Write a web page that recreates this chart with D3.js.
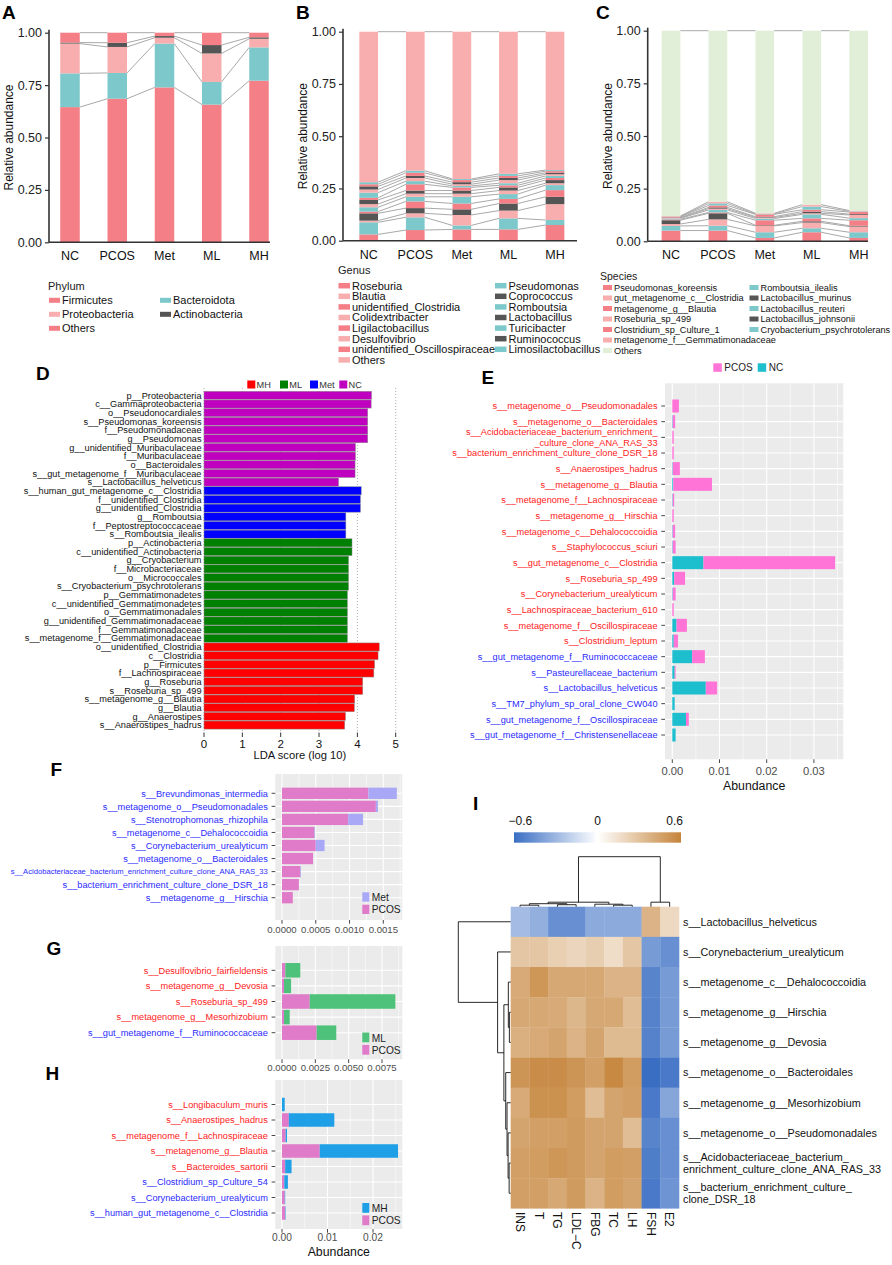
<!DOCTYPE html>
<html><head><meta charset="utf-8">
<script src="https://cdn.jsdelivr.net/npm/d3@7/dist/d3.min.js"></script>
<style>
body{margin:0;background:#fff}
svg{display:block;font-family:"Liberation Sans",Arial,Helvetica,sans-serif}
</style>
</head><body>
<svg id="fig" width="892" height="1265"></svg>
<script>
// ======================= DATA =======================
const groups = ["NC","PCOS","Met","ML","MH"];
const yTicks = [0, 0.25, 0.5, 0.75, 1];

// Panel A (stack order bottom -> top), values per group NC,PCOS,Met,ML,MH
const phylumTaxa = ["Firmicutes","Bacteroidota","Proteobacteria","Actinobacteria","Others"];
const phylumValues = [
  [0.645,0.685,0.739,0.657,0.771],
  [0.161,0.123,0.209,0.108,0.159],
  [0.142,0.124,0.028,0.136,0.041],
  [0.005,0.020,0.008,0.040,0.007],
  [0.047,0.048,0.016,0.059,0.022]
];
const phylumLegendCols = [["Firmicutes","Proteobacteria","Others"],["Bacteroidota","Actinobacteria"]];

// Panel B
const genusTaxa = ["Roseburia","Pseudomonas","Blautia","Coprococcus","unidentified_Clostridia","Romboutsia",
  "Colidextribacter","Lactobacillus","Ligilactobacillus","Turicibacter","Desulfovibrio","Ruminococcus",
  "unidentified_Oscillospiraceae","Limosilactobacillus","Others"];
const genusValues = [
  [0.030,0.051,0.054,0.054,0.075],
  [0.058,0.061,0.019,0.053,0.024],
  [0.008,0.019,0.050,0.037,0.076],
  [0.035,0.025,0.027,0.034,0.035],
  [0.008,0.032,0.028,0.022,0.032],
  [0.021,0.022,0.032,0.023,0.024],
  [0.015,0.015,0.015,0.017,0.009],
  [0.020,0.015,0.015,0.015,0.015],
  [0.010,0.030,0.015,0.010,0.010],
  [0.025,0.015,0.007,0.010,0.010],
  [0.015,0.015,0.008,0.015,0.008],
  [0.015,0.010,0.010,0.010,0.007],
  [0.010,0.015,0.010,0.010,0.008],
  [0.010,0.010,0.005,0.010,0.005],
  [0.720,0.665,0.705,0.680,0.662]
];
const genusLegendCols = [
  ["Roseburia","Blautia","unidentified_Clostridia","Colidextribacter","Ligilactobacillus","Desulfovibrio","unidentified_Oscillospiraceae","Others"],
  ["Pseudomonas","Coprococcus","Romboutsia","Lactobacillus","Turicibacter","Ruminococcus","Limosilactobacillus"]
];

// Panel C
const speciesTaxa = ["Pseudomonas_koreensis","Romboutsia_ilealis","gut_metagenome_c__Clostridia","Lactobacillus_murinus",
  "metagenome_g__Blautia","Lactobacillus_reuteri","Roseburia_sp_499","Lactobacillus_johnsonii",
  "Clostridium_sp_Culture_1","Cryobacterium_psychrotolerans","metagenome_f__Gemmatimonadaceae","Others"];
const speciesValues = [
  [0.051,0.051,0.016,0.043,0.016],
  [0.022,0.023,0.027,0.019,0.027],
  [0.009,0.030,0.030,0.027,0.027],
  [0.018,0.029,0.003,0.006,0.004],
  [0.004,0.004,0.024,0.014,0.026],
  [0.005,0.012,0.008,0.019,0.010],
  [0.002,0.006,0.005,0.005,0.015],
  [0.002,0.006,0.004,0.008,0.004],
  [0.004,0.009,0.011,0.009,0.010],
  [0.001,0.010,0.002,0.015,0.003],
  [0.002,0.008,0.003,0.009,0.004],
  [0.880,0.812,0.867,0.826,0.854]
];
const speciesLegendCols = [
  ["Pseudomonas_koreensis","gut_metagenome_c__Clostridia","metagenome_g__Blautia","Roseburia_sp_499","Clostridium_sp_Culture_1","metagenome_f__Gemmatimonadaceae","Others"],
  ["Romboutsia_ilealis","Lactobacillus_murinus","Lactobacillus_reuteri","Lactobacillus_johnsonii","Cryobacterium_psychrotolerans"]
];

// Panel D (LEfSe)
const ldaGroups = ["MH","ML","Met","NC"];
const ldaNames = ["p__Proteobacteria","c__Gammaproteobacteria","o__Pseudonocardiales","s__Pseudomonas_koreensis",
  "f__Pseudomonadaceae","g__Pseudomonas","g__unidentified_Muribaculaceae","f__Muribaculaceae","o__Bacteroidales",
  "s__gut_metagenome_f__Muribaculaceae","s__Lactobacillus_helveticus",
  "s__human_gut_metagenome_c__Clostridia","f__unidentified_Clostridia","g__unidentified_Clostridia","g__Romboutsia",
  "f__Peptostreptococcaceae","s__Romboutsia_ilealis",
  "p__Actinobacteria","c__unidentified_Actinobacteria","g__Cryobacterium","f__Microbacteriaceae","o__Micrococcales",
  "s__Cryobacterium_psychrotolerans","p__Gemmatimonadetes","c__unidentified_Gemmatimonadetes","o__Gemmatimonadales",
  "g__unidentified_Gemmatimonadaceae","f__Gemmatimonadaceae","s__metagenome_f__Gemmatimonadaceae",
  "o__unidentified_Clostridia","c__Clostridia","p__Firmicutes","f__Lachnospiraceae","g__Roseburia","s__Roseburia_sp_499",
  "s__metagenome_g__Blautia","g__Blautia","g__Anaerostipes","s__Anaerostipes_hadrus"];
const ldaScores = [4.37,4.36,4.27,4.27,4.27,4.27,3.95,3.95,3.94,3.94,3.51,
  4.10,4.08,4.08,3.70,3.70,3.70,
  3.86,3.86,3.77,3.77,3.77,3.77,3.74,3.74,3.74,3.74,3.74,3.74,
  4.57,4.54,4.45,4.43,4.14,4.14,3.93,3.92,3.69,3.67];
const ldaClass = [...Array(11).fill("NC"),...Array(6).fill("Met"),...Array(12).fill("ML"),...Array(10).fill("MH")];
const ldaTicks = [0,1,2,3,4,5];

// Panel E (NC vs PCOS)
const eNames = ["s__metagenome_o__Pseudomonadales","s__metagenome_o__Bacteroidales",
  "s__Acidobacteriaceae_bacterium_enrichment_\n_culture_clone_ANA_RAS_33","s__bacterium_enrichment_culture_clone_DSR_18",
  "s__Anaerostipes_hadrus","s__metagenome_g__Blautia","s__metagenome_f__Lachnospiraceae","s__metagenome_g__Hirschia",
  "s__metagenome_c__Dehalococcoidia","s__Staphylococcus_sciuri","s__gut_metagenome_c__Clostridia","s__Roseburia_sp_499",
  "s__Corynebacterium_urealyticum","s__Lachnospiraceae_bacterium_610","s__metagenome_f__Oscillospiraceae",
  "s__Clostridium_leptum","s__gut_metagenome_f__Ruminococcaceae","s__Pasteurellaceae_bacterium",
  "s__Lactobacillus_helveticus","s__TM7_phylum_sp_oral_clone_CW040","s__gut_metagenome_f__Oscillospiraceae",
  "s__gut_metagenome_f__Christensenellaceae"];
const eNC   = [0.0000,0.0001,0.0000,0.0000,0.0001,0.0002,0.0001,0.0000,0.0001,0.0001,0.0066,0.0004,0.0001,0.0000,0.0009,0.0003,0.0042,0.0005,0.0071,0.0005,0.0029,0.0007];
const ePCOS = [0.0014,0.0005,0.0003,0.0003,0.0015,0.0082,0.0003,0.0003,0.0005,0.0006,0.0279,0.0023,0.0006,0.0003,0.0022,0.0009,0.0027,0.0002,0.0024,0.0000,0.0006,0.0000];
const eDir = [...Array(16).fill("up"),...Array(6).fill("down")];
const eTicks = [0,0.01,0.02,0.03];

// Panel F (PCOS vs Met)
const fNames = ["s__Brevundimonas_intermedia","s__metagenome_o__Pseudomonadales","s__Stenotrophomonas_rhizophila",
  "s__metagenome_c__Dehalococcoidia","s__Corynebacterium_urealyticum","s__metagenome_o__Bacteroidales",
  "s__Acidobacteriaceae_bacterium_enrichment_culture_clone_ANA_RAS_33","s__bacterium_enrichment_culture_clone_DSR_18",
  "s__metagenome_g__Hirschia"];
const fPCOS = [0.00128,0.00139,0.00098,0.00048,0.00050,0.00046,0.00027,0.00025,0.00016];
const fMet  = [0.00042,0.00003,0.00022,0.00001,0.00013,0.00000,0.00001,0.00000,0.00000];
const fDir = Array(9).fill("down");
const fTicks = [0,0.0005,0.0010,0.0015];

// Panel G (PCOS vs ML)
const gNames = ["s__Desulfovibrio_fairfieldensis","s__metagenome_g__Devosia","s__Roseburia_sp_499",
  "s__metagenome_g__Mesorhizobium","s__gut_metagenome_f__Ruminococcaceae"];
const gPCOS = [0.00025,0.00015,0.00208,0.00015,0.00260];
const gML   = [0.00112,0.00053,0.00642,0.00043,0.00147];
const gDir = ["up","up","up","up","down"];
const gTicks = [0,0.0025,0.0050,0.0075];

// Panel H (PCOS vs MH)
const hNames = ["s__Longibaculum_muris","s__Anaerostipes_hadrus","s__metagenome_f__Lachnospiraceae","s__metagenome_g__Blautia",
  "s__Bacteroides_sartorii","s__Clostridium_sp_Culture_54","s__Corynebacterium_urealyticum","s__human_gut_metagenome_c__Clostridia"];
const hPCOS = [0.0000,0.0015,0.0008,0.0083,0.0007,0.0005,0.0006,0.0007];
const hMH   = [0.0006,0.0100,0.0003,0.0172,0.0014,0.0008,0.0001,0.0001];
const hDir = ["up","up","up","up","up","down","down","down"];
const hTicks = [0,0.01,0.02];

// Panel I (correlation heatmap)
const hmCols = ["INS","T","TG","LDL\u2212C","FBG","TC","LH","FSH","E2"];
const hmRows = ["s__Lactobacillus_helveticus","s__Corynebacterium_urealyticum","s__metagenome_c__Dehalococcoidia",
  "s__metagenome_g__Hirschia","s__metagenome_g__Devosia","s__metagenome_o__Bacteroidales","s__metagenome_g__Mesorhizobium",
  "s__metagenome_o__Pseudomonadales","s__Acidobacteriaceae_bacterium_\nenrichment_culture_clone_ANA_RAS_33",
  "s__bacterium_enrichment_culture_\nclone_DSR_18"];
const hmValues = [
  [-0.30,-0.36,-0.50,-0.50,-0.38,-0.38,-0.38, 0.40, 0.20],
  [ 0.30, 0.30, 0.25, 0.22, 0.26, 0.18, 0.30,-0.45,-0.50],
  [ 0.45, 0.55, 0.46, 0.46, 0.46, 0.40, 0.40,-0.55,-0.45],
  [ 0.46, 0.46, 0.45, 0.38, 0.46, 0.46, 0.35,-0.56,-0.45],
  [ 0.42, 0.45, 0.48, 0.40, 0.48, 0.36, 0.36,-0.56,-0.45],
  [ 0.56, 0.60, 0.60, 0.56, 0.50, 0.62, 0.52,-0.65,-0.60],
  [ 0.45, 0.58, 0.58, 0.52, 0.35, 0.48, 0.50,-0.60,-0.40],
  [ 0.48, 0.50, 0.50, 0.53, 0.48, 0.48, 0.35,-0.55,-0.50],
  [ 0.50, 0.52, 0.55, 0.53, 0.48, 0.52, 0.50,-0.58,-0.50],
  [ 0.50, 0.50, 0.46, 0.53, 0.40, 0.52, 0.48,-0.60,-0.48]
];
const colTree = {h:1.0, c:[
  {h:0.09, c:[ {h:0.06, c:[ {h:0.03, c:["INS","T"]}, {h:0.04, c:["TG","LDL\u2212C"]} ]},
               {h:0.05, c:["FBG", {h:0.03, c:["TC","LH"]}]} ]},
  {h:0.09, c:["FSH","E2"]} ]};
const rowTree = {h:1.0, c:[ hmRows[0],
  {h:0.25, c:[ hmRows[1],
    {h:0.13, c:[
      {h:0.045, c:[hmRows[2], {h:0.025, c:[hmRows[3], hmRows[4]]}]},
      {h:0.095, c:[hmRows[5], {h:0.07, c:[hmRows[6], {h:0.05, c:[hmRows[7], {h:0.03, c:[hmRows[8], hmRows[9]]}]}]}]}
    ]}
  ]}
]};
const hmTicks = [-0.6, 0, 0.6];

// ======================= STYLE / DRAW =======================
const svg = d3.select("#fig");
const SALMON = "#F47F87", LPINK = "#F8AEAE", TEAL = "#7DC8CA", DARK = "#555555", LGREEN = "#E1EFD9";
const cycle4 = [SALMON, TEAL, LPINK, DARK];
const colA = {Firmicutes:SALMON, Bacteroidota:TEAL, Proteobacteria:LPINK, Actinobacteria:DARK, Others:SALMON};
const colB = {}; genusTaxa.forEach((t,i)=>colB[t]=cycle4[i%4]); colB.Others = LPINK;
const colC = {}; speciesTaxa.forEach((t,i)=>colC[t]=cycle4[i%4]); colC.Others = LGREEN;
const dirColor = {up:"#FF1A1A", down:"#2A2AFF"};

function txt(g,x,y,s,o={}){
  const t = g.append("text").attr("x",x).attr("y",y).text(s)
    .attr("font-size",o.size||11).attr("fill",o.fill||"#000").attr("text-anchor",o.anchor||"start");
  if(o.weight) t.attr("font-weight",o.weight);
  return t;
}
function panelLetter(x,y,s){ txt(svg,x,y,s,{size:19,weight:"bold"}); }

function stackPanel(o){
  const g = svg.append("g");
  const x = d3.scalePoint().domain(groups).range([o.c0,o.c1]);
  const y = d3.scaleLinear().domain([0,1]).range([o.yb,o.yt]);
  const table = groups.map((gr,j)=>{const r={group:gr}; o.taxa.forEach((t,i)=>{r[t]=o.values[i][j];}); return r;});
  const series = d3.stack().keys(o.taxa)(table);
  const hw = o.bw/2;
  series.forEach(s=>{
    g.append("g").selectAll("line").data(d3.pairs(Array.from(s))).join("line")
      .attr("x1",p=>x(p[0].data.group)+hw).attr("x2",p=>x(p[1].data.group)-hw)
      .attr("y1",p=>y(p[0][1])).attr("y2",p=>y(p[1][1]))
      .attr("stroke","#A9A9A9").attr("stroke-width",1);
  });
  series.forEach(s=>{
    g.append("g").selectAll("rect").data(s).join("rect")
      .attr("x",d=>x(d.data.group)-hw).attr("width",o.bw)
      .attr("y",d=>y(d[1])).attr("height",d=>Math.max(0,y(d[0])-y(d[1])))
      .attr("fill",o.color[s.key]);
  });
  const ay = g.append("g").attr("transform",`translate(${o.ax},0)`)
    .call(d3.axisLeft(y).tickValues(yTicks).tickFormat(d3.format(".2f")).tickSize(4).tickSizeOuter(0).tickPadding(3));
  ay.select(".domain").remove();
  ay.selectAll(".tick line").attr("stroke","#333").attr("stroke-width",1.2);
  ay.selectAll(".tick text").attr("font-size",12.5).attr("fill","#222").attr("font-family",null);
  g.append("line").attr("x1",o.ax).attr("x2",o.ax).attr("y1",o.yt-3).attr("y2",o.yb)
    .attr("stroke","#333").attr("stroke-width",1.6);
  g.append("line").attr("x1",o.ax).attr("x2",o.axEnd).attr("y1",o.yb).attr("y2",o.yb)
    .attr("stroke","#333").attr("stroke-width",1.6);
  groups.forEach(gr=>txt(g,x(gr),o.yb+18,gr,{size:12.5,anchor:"middle",fill:"#111"}));
  g.append("text").attr("transform",`translate(${o.lx},${(o.yt+o.yb)/2}) rotate(-90)`)
    .attr("text-anchor","middle").attr("font-size",12).attr("fill","#111").text("Relative abundance");
  const L = o.legend;
  txt(g,L.tx,L.ty,L.title,{size:L.titleSize,fill:"#222"});
  L.cols.forEach((col,ci)=>{
    col.forEach((name,i)=>{
      const cy = L.y0 + i*L.dy;
      g.append("rect").attr("x",L.xs[ci]).attr("y",cy-L.sh/2).attr("width",L.sw).attr("height",L.sh).attr("fill",o.color[name]);
      txt(g,L.xs[ci]+L.sw+2,cy+L.size*0.36,name,{size:L.size,fill:"#111"});
    });
  });
}

panelLetter(2,18.5,"A"); panelLetter(296,18.5,"B"); panelLetter(596,18.5,"C");

stackPanel({taxa:phylumTaxa, values:phylumValues, color:colA, c0:70, c1:259, bw:19.5, yt:32.7, yb:242.3, ax:49, axEnd:270, lx:13,
  legend:{title:"Phylum", tx:48, ty:289.5, titleSize:11, cols:phylumLegendCols, xs:[49,160], y0:300.3, dy:14, sw:11, sh:5, size:11}});
stackPanel({taxa:genusTaxa, values:genusValues, color:colB, c0:368.7, c1:555, bw:18.7, yt:31.7, yb:240.7, ax:343, axEnd:577, lx:307,
  legend:{title:"Genus", tx:338, ty:274, titleSize:11, cols:genusLegendCols, xs:[338.5,495], y0:285.7, dy:10.6, sw:11.5, sh:5.5, size:11}});
stackPanel({taxa:speciesTaxa, values:speciesValues, color:colC, c0:671, c1:858.7, bw:18.7, yt:30.7, yb:241.3, ax:647.7, axEnd:868, lx:612,
  legend:{title:"Species", tx:600, ty:280, titleSize:10.5, cols:speciesLegendCols, xs:[603,749.5], y0:287.5, dy:10.5, sw:9, sh:5, size:9.2}});

// ---------- Panel D ----------
(function(){
  panelLetter(36,380,"D");
  const g = svg.append("g");
  const ldaColor = {MH:"#FF0000", ML:"#008000", Met:"#0000FF", NC:"#BF00BF"};
  const x = d3.scaleLinear().domain([0,5]).range([204,395.7]);
  const y = d3.scaleBand().domain(ldaNames).range([391,729.4]);
  ldaTicks.forEach(t=>g.append("line").attr("x1",x(t)).attr("x2",x(t)).attr("y1",388).attr("y2",731)
    .attr("stroke","#9a9a9a").attr("stroke-width",0.8).attr("stroke-dasharray","1,2"));
  g.selectAll("rect.b").data(ldaNames).join("rect").attr("class","b")
    .attr("x",x(0)).attr("y",(d)=>y(d)+0.3).attr("width",(d,i)=>x(ldaScores[i])-x(0)).attr("height",y.bandwidth()-0.6)
    .attr("fill",(d,i)=>ldaColor[ldaClass[i]]).attr("stroke","#8a8a8a").attr("stroke-width",0.5);
  ldaNames.forEach(n=>txt(g,201.5,y(n)+y.bandwidth()/2+3.2,n,{size:9.2,anchor:"end",fill:"#111"}));
  ldaTicks.forEach(t=>{
    g.append("line").attr("x1",x(t)).attr("x2",x(t)).attr("y1",732.5).attr("y2",737).attr("stroke","#333").attr("stroke-width",1);
    txt(g,x(t),747.5,String(t),{size:11.5,anchor:"middle",fill:"#111"});
  });
  txt(g,(x(0)+x(5))/2,759,"LDA score (log 10)",{size:11.2,anchor:"middle",fill:"#111"});
  const lx = {MH:247.3, ML:280, Met:310, NC:339.3};
  ldaGroups.forEach(k=>{
    g.append("rect").attr("x",lx[k]).attr("y",380.5).attr("width",8).attr("height",8).attr("fill",ldaColor[k]);
    txt(g,lx[k]+9.3,388,k,{size:9.2,fill:"#333"});
  });
})();

// ---------- generic ggplot-like stacked horizontal bar ----------
function ggBar(o){
  const g = svg.append("g");
  const x = d3.scaleLinear().domain(o.xd).range(o.xr);
  const y = d3.scalePoint().domain(o.names).range(o.yr);
  g.append("rect").attr("x",o.px0).attr("y",o.py0).attr("width",o.px1-o.px0).attr("height",o.py1-o.py0).attr("fill","#EBEBEB");
  const step = o.ticks[1]-o.ticks[0];
  const minors = d3.range(-1,o.ticks.length+1).map(i=>o.ticks[0]+(i+0.5)*step).filter(v=>x(v)>o.px0+0.5&&x(v)<o.px1-0.5);
  minors.forEach(v=>g.append("line").attr("x1",x(v)).attr("x2",x(v)).attr("y1",o.py0).attr("y2",o.py1).attr("stroke","#fff").attr("stroke-width",0.55));
  o.ticks.forEach(v=>g.append("line").attr("x1",x(v)).attr("x2",x(v)).attr("y1",o.py0).attr("y2",o.py1).attr("stroke","#fff").attr("stroke-width",1.1));
  o.names.forEach(n=>g.append("line").attr("x1",o.px0).attr("x2",o.px1).attr("y1",y(n)).attr("y2",y(n)).attr("stroke","#fff").attr("stroke-width",1.1));
  const table = o.names.map((n,i)=>({name:n, a:o.a[i], b:o.b[i]}));
  const series = d3.stack().keys(["a","b"])(table);
  series.forEach((s,k)=>{
    g.append("g").selectAll("rect").data(s).join("rect")
      .attr("x",d=>x(d[0])).attr("width",d=>Math.max(0,x(d[1])-x(d[0])))
      .attr("y",d=>y(d.data.name)-o.barH/2).attr("height",o.barH).attr("fill",o.colors[k]);
  });
  o.names.forEach((n,i)=>{
    const lines = n.split("\n");
    const fs = (o.labelSize && o.labelSize[i]) || 9.2;
    lines.forEach((ln,j)=>{
      const yy = y(n) + (j-(lines.length-1)/2)*10.7 + fs*0.35;
      const t = txt(g,o.px0-7.5,yy,ln,{size:fs,anchor:"end",fill:dirColor[o.dir[i]]});
      if(o.labelFit && o.labelFit[i]) t.attr("textLength",o.labelFit[i]).attr("lengthAdjust","spacingAndGlyphs");
    });
    g.append("line").attr("x1",o.px0-3.7).attr("x2",o.px0).attr("y1",y(n)).attr("y2",y(n)).attr("stroke","#333").attr("stroke-width",0.9);
  });
  o.ticks.forEach(v=>{
    g.append("line").attr("x1",x(v)).attr("x2",x(v)).attr("y1",o.py1).attr("y2",o.py1+3.7).attr("stroke","#333").attr("stroke-width",0.9);
    txt(g,x(v),o.py1+o.tickLabDy,d3.format(o.fmt)(v),{size:o.tickSize||11,anchor:"middle",fill:"#4D4D4D"});
  });
  if(o.title) txt(g,(o.px0+o.px1)/2,o.py1+o.titleDy,o.title,{size:12.3,anchor:"middle",fill:"#111"});
  const L = o.legend;
  L.items.forEach((it,i)=>{
    const xx = L.xs ? L.xs[i] : L.x;
    const yy = L.y0 + i*L.dy;
    g.append("rect").attr("x",xx).attr("y",yy).attr("width",L.w).attr("height",L.h).attr("fill",it[1]);
    txt(g,xx+L.w+2.5,yy+L.h-0.8,it[0],{size:L.size,fill:"#222"});
  });
}

const cNC = "#1DBFCF", cPCOSe = "#FF74D6", cPCOS = "#E07BC9", cMet = "#A8A8F6", cML = "#4EC27A", cMH = "#1FA0E6";

panelLetter(481.5,384,"E");
ggBar({names:eNames, a:eNC, b:ePCOS, dir:eDir, colors:[cNC,cPCOSe], xd:[0,0.03], xr:[672.3,813.9], yr:[406,735],
  px0:665, px1:843.3, py0:383.3, py1:759.3, barH:13, ticks:eTicks, fmt:".2f", tickLabDy:15.5, tickSize:11.2,
  title:"Abundance", titleDy:31,
  legend:{items:[["PCOS",cPCOSe],["NC",cNC]], xs:[713.3,757.7], y0:363.3, dy:0, w:8.5, h:8.5, size:10}});

panelLetter(50.5,776,"F");
ggBar({names:fNames, a:fPCOS, b:fMet, dir:fDir, colors:[cPCOS,cMet], xd:[0,0.0015], xr:[282,383.3], yr:[793.3,897.7],
  px0:275.3, px1:402.3, py0:774, py1:920, barH:11.3, ticks:fTicks, fmt:".4f", tickLabDy:13, tickSize:9.6,
  labelSize:[null,null,null,null,null,null,7.4,null,null], labelFit:[null,null,null,null,null,null,257,null,null],
  legend:{items:[["Met",cMet],["PCOS",cPCOS]], x:362.3, y0:892.3, dy:12.4, w:7, h:9.3, size:10.2}});

panelLetter(46.5,955,"G");
ggBar({names:gNames, a:gPCOS, b:gML, dir:gDir, colors:[cPCOS,cML], xd:[0,0.0075], xr:[282,382], yr:[970.3,1032.7],
  px0:275.3, px1:402.3, py0:946, py1:1059.3, barH:14.5, ticks:gTicks, fmt:".4f", tickLabDy:11.5, tickSize:9.6,
  legend:{items:[["ML",cML],["PCOS",cPCOS]], x:362.3, y0:1032.5, dy:12.4, w:7, h:9.8, size:10.2}});

panelLetter(45.5,1080,"H");
ggBar({names:hNames, a:hPCOS, b:hMH, dir:hDir, colors:[cPCOS,cMH], xd:[0,0.02], xr:[282,373], yr:[1104.5,1213],
  px0:275.3, px1:402.3, py0:1080, py1:1229, barH:13.5, ticks:hTicks, fmt:".2f", tickLabDy:12, tickSize:10.2,
  title:"Abundance", titleDy:27,
  legend:{items:[["MH",cMH],["PCOS",cPCOS]], x:362.3, y0:1203, dy:12.4, w:7, h:9.8, size:10.2}});

// ---------- Panel I ----------
(function(){
  panelLetter(473,810,"I");
  const g = svg.append("g");
  const color = d3.scaleLinear().domain([-0.65,0,0.65]).range(["#3A6EC3","#FFFFFF","#C5843A"]);
  const cb = d3.scaleLinear().domain([-0.65,0.65]).range([514,681]);
  const grad = svg.append("defs").append("linearGradient").attr("id","cbar");
  d3.range(0,1.0001,0.05).forEach(t=>grad.append("stop").attr("offset",t).attr("stop-color",color(-0.65+1.3*t)));
  g.append("rect").attr("x",cb.range()[0]).attr("y",832.3).attr("width",cb.range()[1]-cb.range()[0]).attr("height",10.4).attr("fill","url(#cbar)");
  hmTicks.forEach(t=>txt(g,cb(t),825,t===0?"0":d3.format(".1f")(t).replace("-","\u2212"),{size:12,anchor:"middle",fill:"#111"}));

  const x = d3.scaleBand().domain(hmCols).range([510.7,679]);
  const y = d3.scaleBand().domain(hmRows).range([906.7,1208.3]);
  hmRows.forEach((r,i)=>hmCols.forEach((c,j)=>{
    g.append("rect").attr("x",x(c)).attr("y",y(r)).attr("width",x.bandwidth()+0.3).attr("height",y.bandwidth()+0.3)
      .attr("fill",color(hmValues[i][j]));
  }));
  hmRows.forEach(r=>{
    const lines = r.split("\n");
    lines.forEach((ln,j)=>txt(g,683,y(r)+y.bandwidth()/2+(j-(lines.length-1)/2)*12.6+3.8,ln,{size:10.8,fill:"#111"}));
  });
  hmCols.forEach(c=>{
    g.append("text").attr("transform",`translate(${x(c)+x.bandwidth()/2},1212) rotate(90)`)
      .attr("dy","0.35em").attr("font-size",12).attr("fill","#111").text(c);
  });
  function pos(node, leafPos){ return typeof node==="string" ? leafPos(node) : (pos(node.c[0],leafPos)+pos(node.c[1],leafPos))/2; }
  function hgt(node){ return typeof node==="string" ? 0 : node.h; }
  function draw(node, leafPos, hPix, vertical){
    if(typeof node==="string") return;
    const a=node.c[0], b=node.c[1];
    const pa=pos(a,leafPos), pb=pos(b,leafPos);
    const H=hPix(node.h), Ha=hPix(hgt(a)), Hb=hPix(hgt(b));
    const d = vertical ? `M${pa},${Ha}V${H}H${pb}V${Hb}` : `M${Ha},${pa}H${H}V${pb}H${Hb}`;
    g.append("path").attr("d",d).attr("fill","none").attr("stroke","#111").attr("stroke-width",0.9);
    draw(a,leafPos,hPix,vertical); draw(b,leafPos,hPix,vertical);
  }
  const colH = d3.scaleLinear().domain([0,1]).range([906.7,856.7]);
  const rowH = d3.scaleLinear().domain([0,1]).range([510.7,458.3]);
  draw(colTree, c=>x(c)+x.bandwidth()/2, colH, true);
  draw(rowTree, r=>y(r)+y.bandwidth()/2, rowH, false);
})();
</script>
</body></html>
